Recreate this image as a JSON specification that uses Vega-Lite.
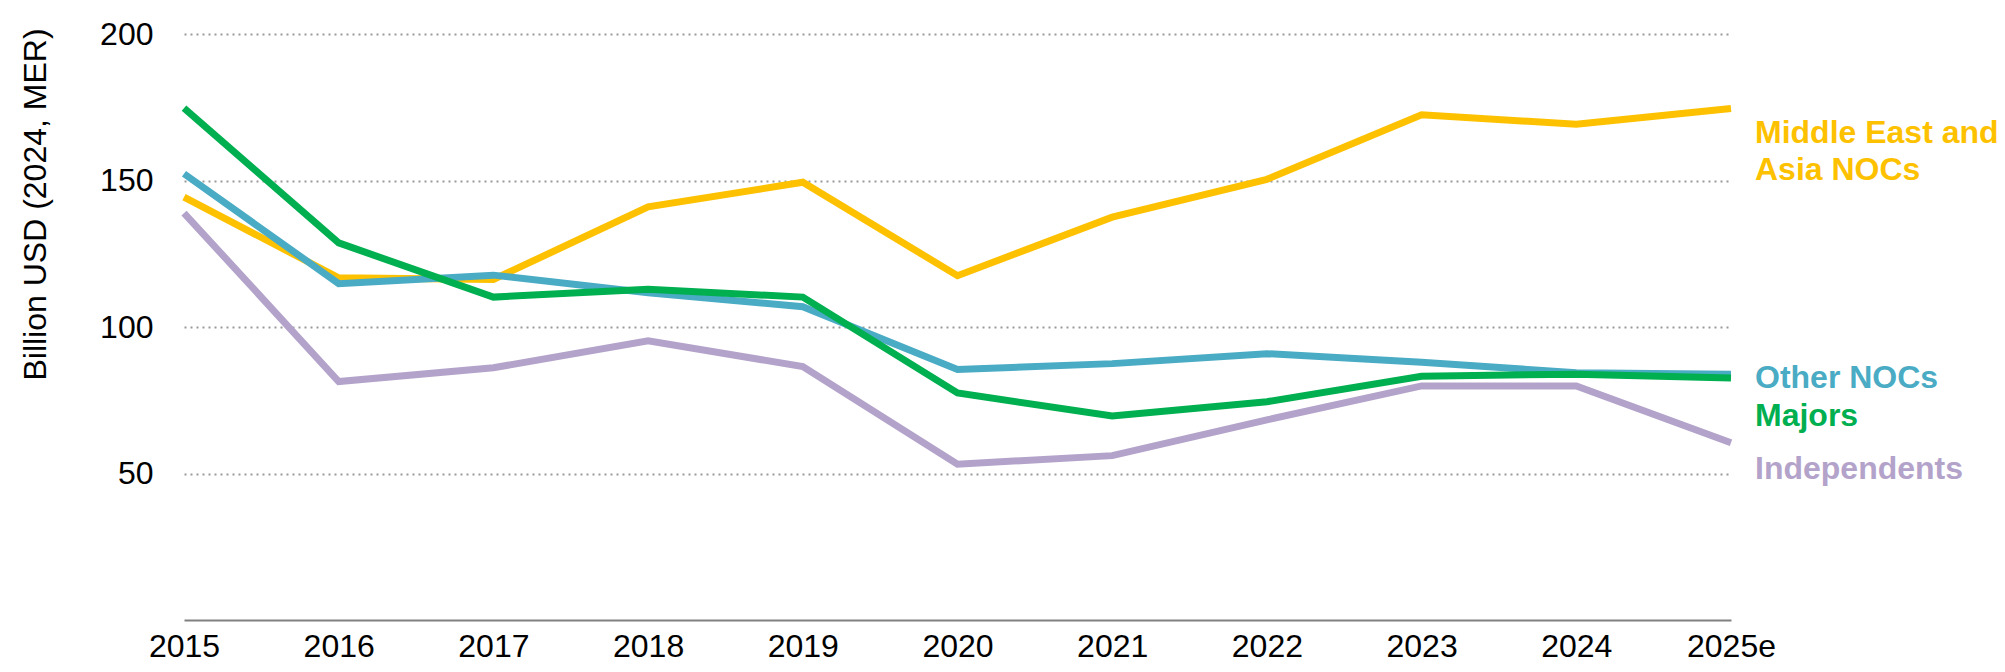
{
  "$schema": "https://vega.github.io/schema/vega-lite/v6.json",
  "width": 1547,
  "height": 586,
  "autosize": {"type": "none"},
  "padding": {"left": 184, "top": 34, "right": 274, "bottom": 52},
  "background": "white",
  "config": {
    "view": {"stroke": null},
    "font": "Liberation Sans",
    "axis": {"labelFont": "Liberation Sans", "titleFont": "Liberation Sans"}
  },
  "data": {
    "values": [
      {"year": "2015", "series": "Independents", "value": 138.9},
      {"year": "2016", "series": "Independents", "value": 81.4},
      {"year": "2017", "series": "Independents", "value": 86.1},
      {"year": "2018", "series": "Independents", "value": 95.3},
      {"year": "2019", "series": "Independents", "value": 86.5},
      {"year": "2020", "series": "Independents", "value": 53.2},
      {"year": "2021", "series": "Independents", "value": 56.1},
      {"year": "2022", "series": "Independents", "value": 68.3},
      {"year": "2023", "series": "Independents", "value": 79.9},
      {"year": "2024", "series": "Independents", "value": 79.9},
      {"year": "2025e", "series": "Independents", "value": 60.5},
      {"year": "2015", "series": "Middle East and Asia NOCs", "value": 144.3},
      {"year": "2016", "series": "Middle East and Asia NOCs", "value": 116.8},
      {"year": "2017", "series": "Middle East and Asia NOCs", "value": 116.2},
      {"year": "2018", "series": "Middle East and Asia NOCs", "value": 141.0},
      {"year": "2019", "series": "Middle East and Asia NOCs", "value": 149.4},
      {"year": "2020", "series": "Middle East and Asia NOCs", "value": 117.5},
      {"year": "2021", "series": "Middle East and Asia NOCs", "value": 137.5},
      {"year": "2022", "series": "Middle East and Asia NOCs", "value": 150.4},
      {"year": "2023", "series": "Middle East and Asia NOCs", "value": 172.4},
      {"year": "2024", "series": "Middle East and Asia NOCs", "value": 169.2},
      {"year": "2025e", "series": "Middle East and Asia NOCs", "value": 174.6},
      {"year": "2015", "series": "Other NOCs", "value": 152.3},
      {"year": "2016", "series": "Other NOCs", "value": 114.8},
      {"year": "2017", "series": "Other NOCs", "value": 117.7},
      {"year": "2018", "series": "Other NOCs", "value": 111.7},
      {"year": "2019", "series": "Other NOCs", "value": 106.9},
      {"year": "2020", "series": "Other NOCs", "value": 85.5},
      {"year": "2021", "series": "Other NOCs", "value": 87.5},
      {"year": "2022", "series": "Other NOCs", "value": 90.9},
      {"year": "2023", "series": "Other NOCs", "value": 88.0},
      {"year": "2024", "series": "Other NOCs", "value": 84.4},
      {"year": "2025e", "series": "Other NOCs", "value": 83.9},
      {"year": "2015", "series": "Majors", "value": 174.7},
      {"year": "2016", "series": "Majors", "value": 128.7},
      {"year": "2017", "series": "Majors", "value": 110.2},
      {"year": "2018", "series": "Majors", "value": 112.9},
      {"year": "2019", "series": "Majors", "value": 110.2},
      {"year": "2020", "series": "Majors", "value": 77.5},
      {"year": "2021", "series": "Majors", "value": 69.6},
      {"year": "2022", "series": "Majors", "value": 74.5},
      {"year": "2023", "series": "Majors", "value": 83.2},
      {"year": "2024", "series": "Majors", "value": 83.9},
      {"year": "2025e", "series": "Majors", "value": 82.6}
    ]
  },
  "encoding": {
    "x": {
      "field": "year",
      "type": "ordinal",
      "sort": null,
      "scale": {"type": "point", "padding": 0},
      "axis": {
        "title": null,
        "labelAngle": 0,
        "labelFontSize": 32,
        "labelColor": "#000000",
        "labelPadding": 11,
        "ticks": false,
        "grid": false,
        "domainColor": "#808080",
        "domainWidth": 2
      }
    },
    "y": {
      "field": "value",
      "type": "quantitative",
      "scale": {"domain": [0, 200], "nice": false, "zero": true},
      "axis": {
        "values": [50, 100, 150, 200],
        "title": "Billion USD (2024, MER)",
        "titleFontSize": 32,
        "titleFontWeight": "normal",
        "titleColor": "#000000",
        "titleAngle": -90,
        "titleX": -149,
        "titleY": 170,
        "titleAlign": "center",
        "titleBaseline": "middle",
        "labelFontSize": 32,
        "labelColor": "#000000",
        "labelPadding": 31,
        "ticks": false,
        "domain": false,
        "grid": true,
        "gridColor": "#9a9a9a",
        "gridDash": [2, 4],
        "gridWidth": 2
      }
    }
  },
  "layer": [
    {
      "mark": {"type": "line", "strokeWidth": 7, "strokeCap": "butt", "strokeJoin": "miter"},
      "encoding": {
        "color": {
          "field": "series",
          "type": "nominal",
          "scale": {
            "domain": ["Independents", "Middle East and Asia NOCs", "Other NOCs", "Majors"],
            "range": ["#B3A3CA", "#FDC100", "#4AABC4", "#00AF50"]
          },
          "legend": null
        }
      }
    },
    {
      "transform": [{"filter": "datum.year === '2025e' && datum.series === 'Middle East and Asia NOCs'"}],
      "mark": {"type": "text", "text": ["Middle East and", "Asia NOCs"], "align": "left", "baseline": "middle", "dx": 24, "dy": 25, "fontSize": 32, "fontWeight": "bold", "lineHeight": 37, "color": "#FDC100"}
    },
    {
      "transform": [{"filter": "datum.year === '2025e' && datum.series === 'Other NOCs'"}],
      "mark": {"type": "text", "text": "Other NOCs", "align": "left", "baseline": "middle", "dx": 24, "dy": 4, "fontSize": 32, "fontWeight": "bold", "color": "#4AABC4"}
    },
    {
      "transform": [{"filter": "datum.year === '2025e' && datum.series === 'Majors'"}],
      "mark": {"type": "text", "text": "Majors", "align": "left", "baseline": "middle", "dx": 24, "dy": 38, "fontSize": 32, "fontWeight": "bold", "color": "#00AF50"}
    },
    {
      "transform": [{"filter": "datum.year === '2025e' && datum.series === 'Independents'"}],
      "mark": {"type": "text", "text": "Independents", "align": "left", "baseline": "middle", "dx": 24, "dy": 26, "fontSize": 32, "fontWeight": "bold", "color": "#B3A3CA"}
    }
  ]
}
